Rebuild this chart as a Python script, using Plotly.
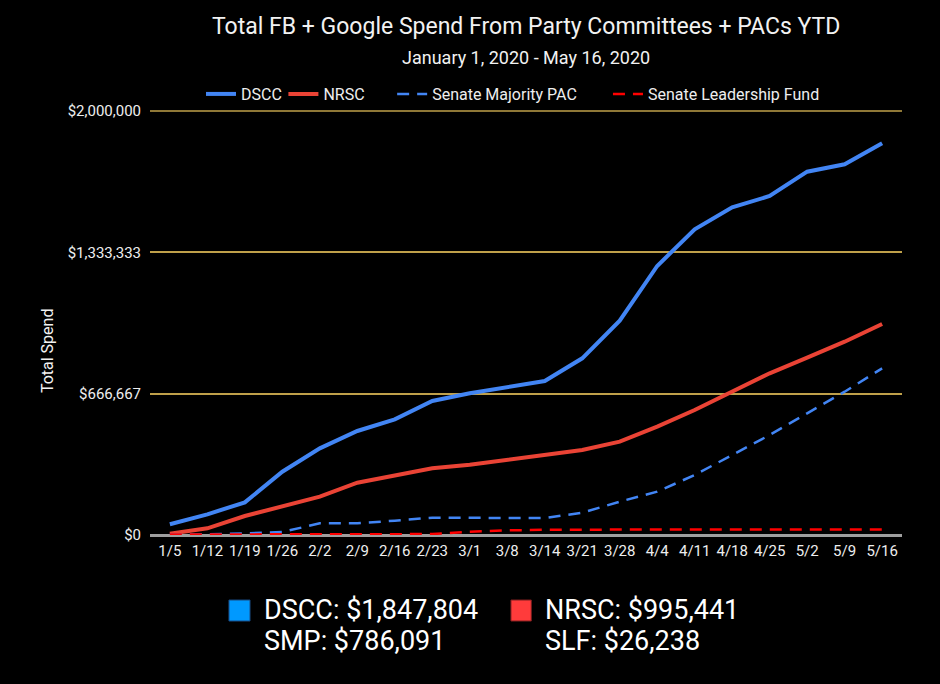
import plotly.graph_objects as go

weeks = ["1/5", "1/12", "1/19", "1/26", "2/2", "2/9", "2/16", "2/23", "3/1", "3/8",
         "3/14", "3/21", "3/28", "4/4", "4/11", "4/18", "4/25", "5/2", "5/9", "5/16"]

dscc = [50500, 97600, 154000, 298700, 408800, 490600, 545600, 632000, 668300, 699600,
        726400, 833400, 1011000, 1268900, 1442000, 1545700, 1599000, 1713800, 1748500, 1847804]
nrsc = [6000, 31600, 89600, 136800, 180700, 246700, 279700, 314600, 331600, 353800,
        375900, 401000, 440100, 510900, 589600, 676000, 762700, 836300, 911800, 995441]
smp = [2000, 3000, 8000, 14000, 55000, 55000, 67500, 81700, 81000, 80000,
       80000, 105000, 157200, 204300, 283000, 377400, 471700, 574000, 676000, 786091]
slf = [2000, 3000, 3500, 4000, 4000, 4000, 4000, 4500, 15500, 22000,
       24500, 26000, 26000, 26200, 26200, 26200, 26200, 26238, 26238, 26238]

y_ticks = [0, 666667, 1333333, 2000000]
y_labels = ["$0", "$666,667", "$1,333,333", "$2,000,000"]

totals_left = ["DSCC: $1,847,804", "SMP: $786,091"]
totals_right = ["NRSC: $995,441", "SLF: $26,238"]

font = "Roboto"
grid_col = "#bfa04a"

fig = go.Figure()
fig.add_trace(go.Scatter(x=weeks, y=dscc, name="DSCC", mode="lines", legend="legend",
                         line=dict(color="#4285F4", width=4)))
fig.add_trace(go.Scatter(x=weeks, y=nrsc, name="NRSC", mode="lines", legend="legend2",
                         line=dict(color="#EA4335", width=4)))
fig.add_trace(go.Scatter(x=weeks, y=smp, name="Senate Majority PAC", mode="lines",
                         legend="legend3",
                         line=dict(color="#4285F4", width=2.5, dash="12px,8px")))
fig.add_trace(go.Scatter(x=weeks, y=slf, name="Senate Leadership Fund", mode="lines",
                         legend="legend4",
                         line=dict(color="#FF0000", width=2.5, dash="12px,8px")))

# title + subtitle etc. as paper annotations so they sit exactly
anns = [
    dict(text="Total FB + Google Spend From Party Committees + PACs YTD", x=0.5, y=1.1976,
         font=dict(size=23, color="#f2f2f2")),
    dict(text="January 1, 2020 - May 16, 2020", x=0.5, y=1.1247,
         font=dict(size=18, color="#f2f2f2")),
    dict(text="Total Spend", x=-0.137, y=0.435, textangle=-90,
         font=dict(size=16, color="#f2f2f2")),
]
for i, t in enumerate(totals_left):
    anns.append(dict(text=t, x=0.149, y=-0.1765 - i * 0.0729, xanchor="left",
                     font=dict(size=27, color="#ffffff")))
for i, t in enumerate(totals_right):
    anns.append(dict(text=t, x=0.523, y=-0.1765 - i * 0.0729, xanchor="left",
                     font=dict(size=27, color="#ffffff")))
for a in anns:
    a.update(xref="paper", yref="paper", showarrow=False, font_family=font)
    a.setdefault("xanchor", "center")
    a["yanchor"] = "middle"

shapes = [
    dict(type="line", xref="paper", yref="y", x0=0, x1=1, y0=2000000, y1=2000000,
         line=dict(color=grid_col, width=1.5), layer="below"),
    dict(type="rect", xref="paper", yref="paper", x0=0.105, x1=0.133, y0=-0.2024, y1=-0.153,
         fillcolor="#0099FF", line=dict(color="#1a4a80", width=1)),
    dict(type="rect", xref="paper", yref="paper", x0=0.480, x1=0.507, y0=-0.2024, y1=-0.153,
         fillcolor="#FF3B3B", line=dict(color="#802020", width=1)),
]

# one legend per series so each entry sits where the original has it
leg_x = [0.0678, 0.1774, 0.3220, 0.6090]
legends = {}
for i, lx in enumerate(leg_x):
    key = "legend" if i == 0 else "legend%d" % (i + 1)
    legends[key] = dict(orientation="h", x=lx, xanchor="left", y=1.0376, yanchor="middle",
                        font=dict(size=16, color="#eeeeee"), bgcolor="rgba(0,0,0,0)")

# page body has an 8px margin, so the figure is 8px smaller each way
fig.update_layout(
    width=932, height=676,
    paper_bgcolor="black", plot_bgcolor="black",
    margin=dict(l=142, r=38, t=102, b=149),
    font=dict(family=font, color="#eeeeee", size=15),
    showlegend=True,
    annotations=anns,
    shapes=shapes,
    xaxis=dict(type="category", range=[-0.53, 19.53], showgrid=False, zeroline=False,
               showline=False, tickfont=dict(size=15, color="#eeeeee"), ticks="",
               ticklabelstandoff=5),
    yaxis=dict(range=[0, 2004700], tickvals=y_ticks, ticktext=y_labels,
               showgrid=True, gridcolor=grid_col, gridwidth=1.5,
               zeroline=True, zerolinecolor="#9e9e9e", zerolinewidth=2.5,
               showline=False, ticks="", ticklabelstandoff=8,
               tickfont=dict(size=15, color="#eeeeee")),
    **legends,
)

fig.write_html("out.html", post_script="document.body.style.background='black';")
